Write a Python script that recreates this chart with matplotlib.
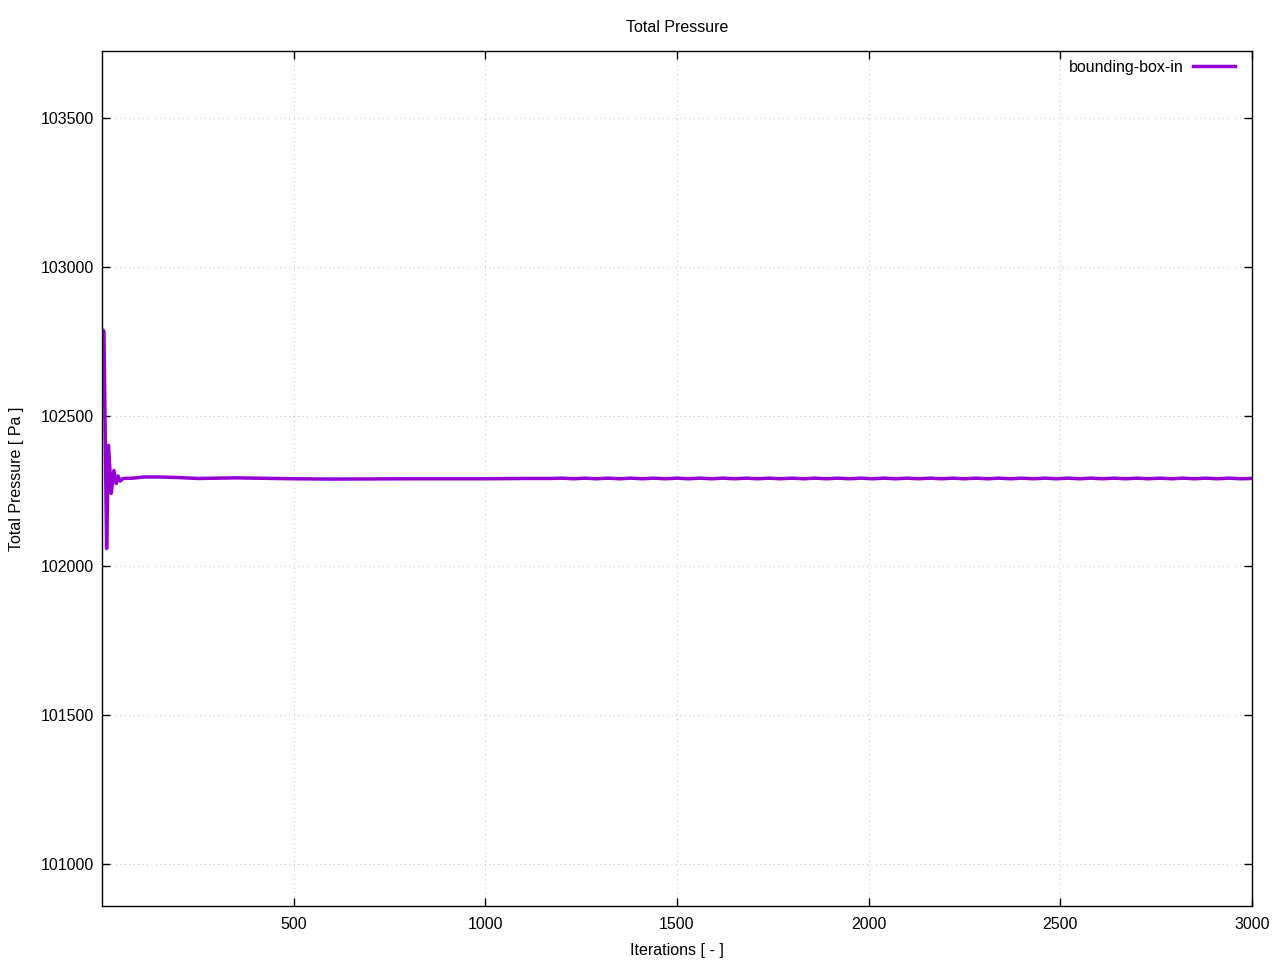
import matplotlib
matplotlib.use("Agg")
import matplotlib.pyplot as plt

# data
iters = [1, 3, 5, 12, 17, 24, 31, 37, 42, 47, 55, 80, 110, 150, 200, 250, 300,
         350, 400, 500, 600, 800, 1000, 1100, 1170,
         1200, 1230, 1260, 1290, 1320, 1350, 1380, 1410, 1440, 1470, 1500,
         1530, 1560, 1590, 1620, 1650, 1680, 1710, 1740, 1770, 1800,
         1830, 1860, 1890, 1920, 1950, 1980, 2010, 2040, 2070, 2100,
         2130, 2160, 2190, 2220, 2250, 2280, 2310, 2340, 2370, 2400,
         2430, 2460, 2490, 2520, 2550, 2580, 2610, 2640, 2670, 2700,
         2730, 2760, 2790, 2820, 2850, 2880, 2910, 2940, 2970, 3000]
pressure = [102564, 102789, 102785, 102057, 102403, 102242, 102319, 102275, 102300,
            102283, 102292, 102293, 102297, 102297, 102295, 102292, 102293,
            102294, 102293, 102291, 102290, 102291, 102291, 102292, 102292,
            102293, 102291, 102293, 102291, 102293, 102291, 102293, 102291, 102293, 102291, 102293,
            102291, 102293, 102291, 102293, 102291, 102293, 102291, 102293, 102291, 102293,
            102291, 102293, 102291, 102293, 102291, 102293, 102291, 102293, 102291, 102293,
            102291, 102293, 102291, 102293, 102291, 102293, 102291, 102293, 102291, 102293,
            102291, 102293, 102291, 102293, 102291, 102293, 102291, 102293, 102291, 102293,
            102291, 102293, 102291, 102293, 102291, 102293, 102291, 102293, 102291, 102292]

xticks = [500, 1000, 1500, 2000, 2500, 3000]
yticks = [101000, 101500, 102000, 102500, 103000, 103500]

plt.rcParams['font.family'] = ['Liberation Sans', 'DejaVu Sans']
plt.rcParams['font.size'] = 11.5

fig = plt.figure(figsize=(12.8, 9.6), dpi=100)
ax = fig.add_axes([0.0797, 0.0563, 0.8984, 0.8906])

ax.plot(iters, pressure, color="#9400D3", linewidth=2.5, label="bounding-box-in")

ax.set_xlim(0, 3000)
ax.set_ylim(100859, 103725)
ax.set_xticks(xticks)
ax.set_yticks(yticks)
ax.tick_params(direction="in", top=True, right=True, length=6, width=1)
ax.tick_params(axis="x", pad=8)
ax.tick_params(axis="y", pad=6)
ax.grid(True, color="#c8c8c8", linestyle=(0, (1, 3)), linewidth=0.8)
for s in ax.spines.values():
    s.set_linewidth(1)

ax.set_title("Total Pressure", pad=14, fontsize=11.5)
ax.set_xlabel("Iterations [ - ]", labelpad=8)
ax.set_ylabel("Total Pressure [ Pa ]", labelpad=12)

ax.legend(loc="upper right", bbox_to_anchor=(1 - 17 / 1150, 1 - 9 / 855),
          frameon=False, markerfirst=False, handlelength=2.6, handletextpad=0.6,
          borderpad=0, borderaxespad=0, fontsize=11.5)

fig.savefig("out.png", dpi=100)
